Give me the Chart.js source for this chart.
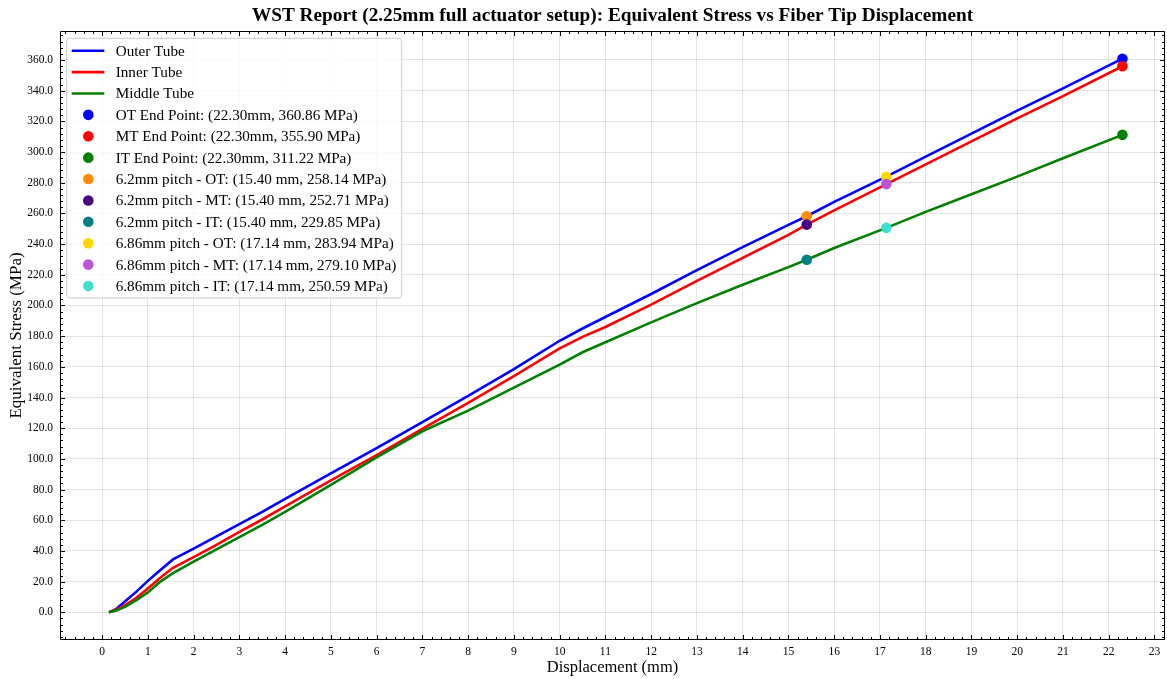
<!DOCTYPE html>
<html><head><meta charset="utf-8">
<script src="https://cdn.jsdelivr.net/npm/chart.js@4"></script>
<style>html,body{margin:0;padding:0;background:#fff}canvas{display:block}</style>
</head><body>
<canvas id="c" width="1167" height="679"></canvas>
<script>
// ---- data ----
const displacement = [0.15,0.3,0.5,0.75,1.0,1.25,1.55,2,2.5,3,3.5,4,5,6,7,8,9,10,10.5,11,12,13,14,15,15.4,16,17.14,18,19,20,21,22.3];
const outerTube  = [0,2,7,13.5,20.5,27,34.5,41.5,49.5,57.5,65.5,74,90.5,107,124,141,158.5,177,185,192.5,207.5,223,238,252.5,258.14,267.5,283.94,297,312,327,341.5,360.86];
const innerTube  = [0,1.5,4.5,9.5,15.5,22,29,36,44,52.5,60.5,69,86,102.5,119.5,136.5,154,172,179.5,186,200.5,216,231,246,252.71,262,279.10,292,307,322,336.5,355.90];
const middleTube = [0,1,3.5,8,13,19.5,25.5,33,41,49,57,65.5,83,101,118,131.5,146.5,161.5,169.5,176,189,201.5,213.5,225,229.85,237.5,250.59,261,272.5,284,296,311.22];
const lineLabels = ['Outer Tube','Inner Tube','Middle Tube'];
const lineColors = ['#0000ff','#ff0000','#008000'];
const pointLabels = [
  'OT End Point: (22.30mm, 360.86 MPa)',
  'MT End Point: (22.30mm, 355.90 MPa)',
  'IT End Point: (22.30mm, 311.22 MPa)',
  '6.2mm pitch - OT: (15.40 mm, 258.14 MPa)',
  '6.2mm pitch - MT: (15.40 mm, 252.71 MPa)',
  '6.2mm pitch - IT: (15.40 mm, 229.85 MPa)',
  '6.86mm pitch - OT: (17.14 mm, 283.94 MPa)',
  '6.86mm pitch - MT: (17.14 mm, 279.10 MPa)',
  '6.86mm pitch - IT: (17.14 mm, 250.59 MPa)'
];
const pointX = [22.30,22.30,22.30,15.40,15.40,15.40,17.14,17.14,17.14];
const pointY = [360.86,355.90,311.22,258.14,252.71,229.85,283.94,279.10,250.59];
const pointColors = ['#0000ff','#ff0000','#008000','#ff8c00','#4b0082','#008080','#ffd700','#ba55d3','#40e0d0'];
const xTicks = Array.from({length:24},(_,i)=>i);
const yTicks = Array.from({length:19},(_,i)=>i*20);
const chartTitle = 'WST Report (2.25mm full actuator setup): Equivalent Stress vs Fiber Tip Displacement';

const FONT = '"Liberation Serif","Times New Roman",serif';
Chart.defaults.font.family = FONT;
Chart.defaults.color = '#000';

const datasets = [];
const seriesVals = [outerTube, innerTube, middleTube];
seriesVals.forEach((vals,k)=>{
  datasets.push({type:'line',label:lineLabels[k],data:displacement.map((x,i)=>({x,y:vals[i]})),
    borderColor:lineColors[k],backgroundColor:lineColors[k],borderWidth:2.6,pointRadius:0,tension:0,fill:false,order:102-k,isLine:true});
});
pointLabels.forEach((lab,i)=>{
  datasets.push({type:'scatter',label:lab,data:[{x:pointX[i],y:pointY[i]}],
    backgroundColor:pointColors[i],borderColor:pointColors[i],pointRadius:5.3,borderWidth:0,order:20-i});
});

const frameTicks = {
  id:'frameTicks',
  afterDraw(chart){
    const ctx = chart.ctx, a = chart.chartArea, xs = chart.scales.x, ys = chart.scales.y;
    ctx.save();
    // title centred over the axes
    ctx.font = 'bold 19.3px '+FONT; ctx.fillStyle='#000'; ctx.textAlign='center'; ctx.textBaseline='middle';
    ctx.fillText(chartTitle,(a.left+a.right)/2,16);
    ctx.strokeStyle = '#000'; ctx.lineWidth = 1;
    ctx.beginPath();
    const L=Math.round(a.left)+0.5,R=Math.round(a.right)-0.5,T=Math.round(a.top)+0.5,B=Math.round(a.bottom)-0.5;
    ctx.rect(L,T,R-L,B-T); ctx.stroke();
    ctx.beginPath();
    for(let v=-0.8; v<=23.3; v+=0.2){
      const vr = Math.round(v*10)/10;
      const major = Math.abs(vr-Math.round(vr))<1e-6;
      const len = major?4.5:2.5;
      const px = Math.round(xs.getPixelForValue(vr))+0.5;
      if(px<a.left||px>a.right) continue;
      ctx.moveTo(px,B); ctx.lineTo(px,B-len);
      ctx.moveTo(px,T); ctx.lineTo(px,T+len);
    }
    for(let v=-16; v<=378; v+=4){
      const major = v%20===0;
      const len = major?4.5:2.5;
      const py = Math.round(ys.getPixelForValue(v))+0.5;
      if(py<a.top||py>a.bottom) continue;
      ctx.moveTo(L,py); ctx.lineTo(L+len,py);
      ctx.moveTo(R,py); ctx.lineTo(R-len,py);
    }
    ctx.stroke();
    ctx.restore();

    // legend
    const bx=a.left+6.7, by=a.top+7.3, bw=335, bh=259.7, r=3;
    ctx.save();
    ctx.beginPath();
    ctx.moveTo(bx+r,by); ctx.lineTo(bx+bw-r,by); ctx.quadraticCurveTo(bx+bw,by,bx+bw,by+r);
    ctx.lineTo(bx+bw,by+bh-r); ctx.quadraticCurveTo(bx+bw,by+bh,bx+bw-r,by+bh);
    ctx.lineTo(bx+r,by+bh); ctx.quadraticCurveTo(bx,by+bh,bx,by+bh-r);
    ctx.lineTo(bx,by+r); ctx.quadraticCurveTo(bx,by,bx+r,by); ctx.closePath();
    ctx.fillStyle='rgba(255,255,255,0.8)'; ctx.fill();
    ctx.strokeStyle='rgba(204,204,204,1)'; ctx.lineWidth=1; ctx.stroke();
    ctx.font = '15.2px '+FONT; ctx.textBaseline='middle'; ctx.textAlign='left';
    chart.data.datasets.forEach((ds,i)=>{
      const cy = by+12.4+i*21.39;
      if(ds.isLine){
        ctx.strokeStyle=ds.borderColor; ctx.lineWidth=2.6;
        ctx.beginPath(); ctx.moveTo(bx+5,cy); ctx.lineTo(bx+37.6,cy); ctx.stroke();
      } else {
        ctx.fillStyle=ds.backgroundColor;
        ctx.beginPath(); ctx.arc(bx+21.6,cy,5.3,0,Math.PI*2); ctx.fill();
      }
      ctx.fillStyle='#000';
      ctx.fillText(ds.label,bx+49,cy+1);
    });
    ctx.restore();
  }
};

new Chart(document.getElementById('c'),{
  data:{datasets},
  options:{
    responsive:false, devicePixelRatio:1, animation:false,
    layout:{autoPadding:false,padding:{left:0,right:2,top:31,bottom:0}},
    plugins:{
      legend:{display:false},
      tooltip:{enabled:false},
      title:{display:false}
    },
    scales:{
      x:{type:'linear',min:-0.92,max:23.23,
        afterBuildTicks:s=>{s.ticks=xTicks.map(v=>({value:v}));},
        afterFit:s=>{s.height=39;s.paddingRight=0;s.paddingLeft=0;},
        ticks:{font:{size:11.5,family:FONT},color:'#000',padding:5,maxRotation:0,autoSkip:false,callback:v=>String(v)},
        grid:{color:'rgba(0,0,0,0.1)',lineWidth:1,drawTicks:false},
        border:{display:false},
        title:{display:true,text:'Displacement (mm)',font:{size:16.5,family:FONT},color:'#000',padding:{top:0,bottom:1}}
      },
      y:{type:'linear',min:-18.04,max:378.9,
        afterBuildTicks:s=>{s.ticks=yTicks.map(v=>({value:v}));},
        afterFit:s=>{s.width=60;},
        ticks:{font:{size:11.5,family:FONT},color:'#000',padding:7,autoSkip:false,callback:v=>Number(v).toFixed(1)},
        grid:{color:'rgba(0,0,0,0.1)',lineWidth:1,drawTicks:false},
        border:{display:false},
        title:{display:true,text:'Equivalent Stress (MPa)',font:{size:17,family:FONT},color:'#000',padding:{top:6.5,bottom:0}}
      }
    }
  },
  plugins:[frameTicks]
});
</script>
</body></html>
